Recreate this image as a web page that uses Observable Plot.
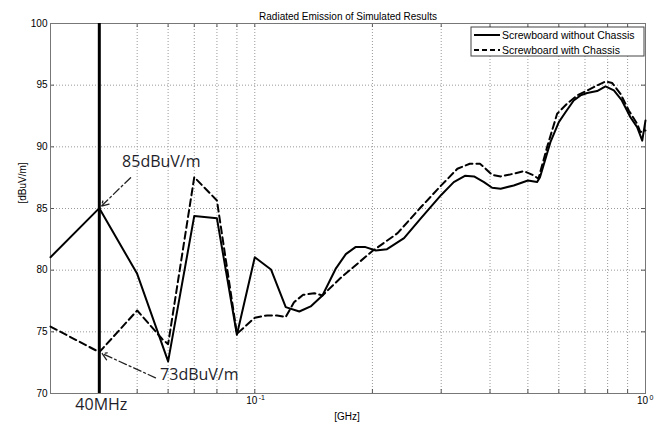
<!DOCTYPE html>
<html>
<head>
<meta charset="utf-8">
<script src="https://cdn.jsdelivr.net/npm/d3@7"></script>
<script src="https://cdn.jsdelivr.net/npm/@observablehq/plot@0.6"></script>
<style>
  html, body { margin: 0; padding: 0; background: #fff; }
  svg { display: block; }
</style>
</head>
<body>
<div id="chart"></div>
<script>
// ---- data ----
const chartTitle = "Radiated Emission of Simulated Results";
const seriesNames = ["Screwboard without Chassis", "Screwboard with Chassis"];

const freqSolid = [0.03, 0.04, 0.05, 0.06, 0.07, 0.08, 0.09, 0.1, 0.11, 0.12, 0.13, 0.139, 0.149, 0.161, 0.171, 0.181, 0.192, 0.204, 0.218, 0.241, 0.266, 0.3, 0.323, 0.345, 0.364, 0.386, 0.405, 0.426, 0.46, 0.5, 0.528, 0.537, 0.571, 0.6, 0.624, 0.655, 0.682, 0.709, 0.752, 0.79, 0.83, 0.87, 0.915, 0.952, 0.981, 1.0];
const valSolid  = [81.05, 85.03, 79.7, 72.6, 84.4, 84.2, 74.76, 81.05, 80.06, 77.0, 76.65, 77.06, 77.95, 80.1, 81.3, 81.87, 81.87, 81.6, 81.7, 82.6, 84.2, 86.1, 87.14, 87.65, 87.6, 87.14, 86.68, 86.6, 86.87, 87.27, 87.14, 87.54, 90.38, 92.0, 92.8, 93.76, 94.17, 94.36, 94.52, 94.9, 94.57, 93.76, 92.4, 91.6, 90.5, 92.14];

const freqDashed = [0.03, 0.04, 0.05, 0.058, 0.06, 0.07, 0.08, 0.09, 0.1, 0.1076, 0.114, 0.12, 0.126, 0.133, 0.142, 0.149, 0.166, 0.2, 0.232, 0.266, 0.3, 0.33, 0.355, 0.377, 0.386, 0.405, 0.426, 0.46, 0.488, 0.518, 0.532, 0.56, 0.594, 0.63, 0.669, 0.709, 0.752, 0.79, 0.822, 0.863, 0.906, 0.952, 0.97, 1.0];
const valDashed  = [75.43, 73.35, 76.73, 74.4, 74.0, 87.54, 85.65, 74.84, 76.14, 76.33, 76.33, 76.2, 77.4, 78.0, 78.13, 77.95, 79.38, 81.55, 83.0, 85.1, 86.87, 88.22, 88.63, 88.63, 88.35, 87.73, 87.6, 87.82, 88.03, 87.68, 87.41, 89.98, 92.68, 93.5, 94.17, 94.57, 94.98, 95.3, 95.17, 94.3, 92.95, 91.87, 91.2, 91.33];

const yTicks = [70, 75, 80, 85, 90, 95, 100];
const yGrid = [75, 80, 85, 90, 95];
const xGrid = [0.04, 0.05, 0.06, 0.07, 0.08, 0.09, 0.1, 0.2, 0.3, 0.4, 0.5, 0.6, 0.7, 0.8, 0.9];
const xLabelTicks = [0.1, 1];
const xTickBase = ["10", "10"];
const xTickExp = ["-1", "0"];
const markerFreq = [0.04];
const markerLabel = ["40MHz"];

// annotations: label, tip point (data), tail point (data)
const annLabels = ["85dBuV/m", "73dBuV/m"];
const annTipX = [0.04, 0.04];
const annTipY = [85.03, 73.35];
const annTailX = [0.0481, 0.0557];
const annTailY = [87.5, 71.27];

// ---- tables ----
const solid = freqSolid.map((f, i) => ({f, v: valSolid[i]}));
const dashed = freqDashed.map((f, i) => ({f, v: valDashed[i]}));
const xLab = xLabelTicks.map((f, i) => ({f, base: xTickBase[i], exp: xTickExp[i]}));
const ann = annLabels.map((label, i) => ({label, x1: annTailX[i], y1: annTailY[i], x2: annTipX[i], y2: annTipY[i]}));

const FONT = "Liberation Sans, Arial, Helvetica, sans-serif";
const ANNFONT = "Open Sans, Noto Sans, sans-serif";

function legendMark(index, scales, values, dimensions) {
  const d = dimensions || {width: 665, marginRight: 20, marginTop: 23};
  const x0 = d.width - d.marginRight - 174, y0 = d.marginTop + 4, w = 173, h = 29;
  const g = d3.create("svg:g");
  g.append("rect").attr("x", x0).attr("y", y0).attr("width", w).attr("height", h)
    .attr("fill", "white").attr("stroke", "#444").attr("stroke-width", 1);
  seriesNames.forEach((name, i) => {
    const yy = y0 + 8 + i * 15;
    g.append("line").attr("x1", x0 + 3).attr("x2", x0 + 29).attr("y1", yy).attr("y2", yy)
      .attr("stroke", "black").attr("stroke-width", 2)
      .attr("stroke-dasharray", i ? "5,3" : null);
    g.append("text").attr("x", x0 + 31).attr("y", yy).attr("dy", "0.36em")
      .attr("text-anchor", "start")
      .attr("font-family", FONT).attr("font-size", 10.5).attr("fill", "black").text(name);
  });
  return g.node();
}

const chart = Plot.plot({
  width: 665,
  height: 428,
  marginLeft: 50,
  marginRight: 20,
  marginTop: 23,
  marginBottom: 35,
  style: {fontFamily: FONT, fontSize: "10px", background: "white", color: "black"},
  x: {type: "log", domain: [0.03, 1], axis: null},
  y: {domain: [70, 100]},
  marks: [
    // dotted grid
    Plot.ruleX(xGrid, {x: d => d, stroke: "#999", strokeDasharray: "1,2", strokeWidth: 1}),
    Plot.ruleY(yGrid, {y: d => d, stroke: "#999", strokeDasharray: "1,2", strokeWidth: 1}),
    // small inward ticks
    Plot.ruleX(xGrid, {x: d => d, stroke: "#555", insetTop: 366}),
    Plot.ruleX(xGrid, {x: d => d, stroke: "#555", insetBottom: 366}),
    Plot.ruleY(yGrid, {y: d => d, stroke: "#555", insetRight: 591}),
    Plot.ruleY(yGrid, {y: d => d, stroke: "#555", insetLeft: 591}),
    Plot.frame({stroke: "#777", strokeWidth: 1}),
    // 40 MHz marker
    Plot.ruleX(markerFreq, {x: d => d, stroke: "black", strokeWidth: 3}),
    // series
    Plot.line(solid, {x: "f", y: "v", stroke: "black", strokeWidth: 2, strokeLinejoin: "round"}),
    Plot.line(dashed, {x: "f", y: "v", stroke: "black", strokeWidth: 2, strokeDasharray: "7,4", strokeLinejoin: "round"}),
    // annotations
    Plot.arrow(ann, {x1: "x1", y1: "y1", x2: "x2", y2: "y2", stroke: "#222", strokeWidth: 1.3,
      strokeDasharray: "8,3,2,3", headLength: 9, insetEnd: 3}),
    Plot.text(ann.slice(0, 1), {x: "x2", y: "y2", text: "label", dx: 62, dy: -46,
      fontSize: 16, fontFamily: ANNFONT, fill: "#1e1e2a", textAnchor: "middle"}),
    Plot.text(ann.slice(1, 2), {x: "x2", y: "y2", text: "label", dx: 100, dy: 23,
      fontSize: 16, fontFamily: ANNFONT, fill: "#1e1e2a", textAnchor: "middle"}),
    Plot.text(markerFreq, {x: d => d, text: (d, i) => markerLabel[i], frameAnchor: "bottom", dy: 16, dx: 2,
      fontSize: 16, fontFamily: ANNFONT, fill: "#1e1e2a", textAnchor: "middle"}),
    // axes
    Plot.axisY(yTicks, {tickSize: 0, tickPadding: 3, fontSize: 10, label: null}),
    Plot.text(xLab, {x: "f", text: "base", frameAnchor: "bottom", dy: 10, dx: -3, fontSize: 10, textAnchor: "middle"}),
    Plot.text(xLab, {x: "f", text: "exp", frameAnchor: "bottom", dy: 6, dx: 4, fontSize: 7, textAnchor: "start"}),
    Plot.text(["[dBuV/m]"], {frameAnchor: "left", dx: -28, dy: -5, rotate: -90, fontSize: 10}),
    Plot.text(["[GHz]"], {frameAnchor: "bottom", dy: 26, dx: -1, fontSize: 10}),
    Plot.text([chartTitle], {frameAnchor: "top", dy: -11, fontSize: 10}),
    legendMark
  ]
});

document.getElementById("chart").appendChild(chart);
</script>
</body>
</html>
